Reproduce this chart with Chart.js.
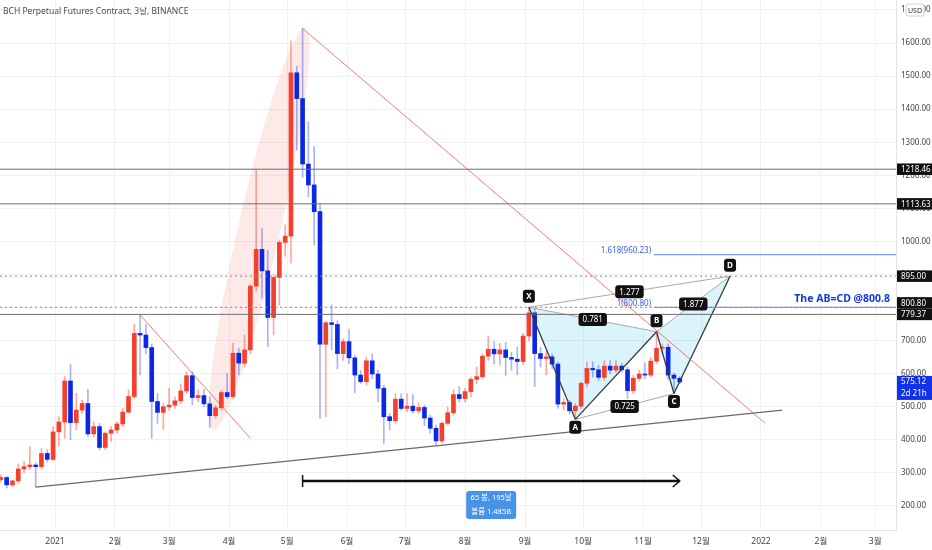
<!DOCTYPE html>
<html>
<head>
<meta charset="utf-8">
<script src="https://cdn.jsdelivr.net/npm/chart.js@4.4.1/dist/chart.umd.min.js"></script>
<style>
  html, body { margin: 0; padding: 0; background: #fff; }
  #wrap { width: 932px; height: 550px; position: relative; }
</style>
</head>
<body>
<div id="wrap"><canvas id="c"></canvas></div>
<script>
// 3-day candles, first one starts 28 days before 2021-01-01
const startDay = -28;
const opens  = [280,286,264,276,312,319,324,319,359,341,424,454,578,452,490,510,418,440,377,420,430,448,484,531,722,717,679,516,483,500,505,518,548,594,528,534,509,473,497,543,531,662,632,672,865,976,911,770,891,997,1016,1510,1432,1234,1171,1090,689,754,749,661,697,648,596,576,639,599,556,470,458,523,495,502,488,498,466,435,397,450,482,537,525,546,583,591,653,674,660,672,649,644,637,714,784,661,646,651,629,508,513,488,502,571,616,612,589,623,611,623,612,549,586,599,596,638,677,680,596,586];
const highs  = [294,290,278,327,334,380,330,374,370,440,470,591,628,541,520,553,455,450,424,440,455,495,551,750,778,750,690,540,510,556,530,569,606,606,551,553,530,505,550,601,692,677,717,870,1218,1040,974,900,1005,1050,1607,1530,1644,1362,1287,1115,758,808,760,705,735,655,610,650,660,610,565,480,540,539,540,537,512,505,475,445,455,500,551,561,555,590,620,660,714,697,692,695,665,680,722,800.8,795,680,668,660,635,525,520,510,575,636,636,625,640,640,640,632,620,595,610,633,650,727,690,690,602,592];
const lows   = [272,254,258,270,300,310,257,312,333,336,380,405,400,430,480,410,408,370,370,395,420,440,480,525,596,660,405,450,432,490,495,510,540,506,515,500,438,465,490,525,525,596,620,660,850,828,682,717,808,955,934,1276,1194,1135,989,465,470,672,615,640,630,543,570,565,585,515,389,430,450,490,485,480,480,443,420,384,390,445,475,515,515,530,570,585,640,630,625,595,610,597,627,700,561,620,596,615,495,490,478,462,495,560,590,580,580,600,605,605,525,540,578,585,590,630,660,583,540,570];
const closes = [286,264,276,312,319,324,319,359,341,424,454,578,452,490,510,418,440,377,420,430,448,484,531,722,717,679,516,483,500,505,518,548,594,528,534,509,473,497,543,531,662,632,672,865,976,911,770,891,997,1016,1510,1432,1234,1171,1090,689,754,749,661,697,648,596,576,639,599,556,470,458,523,495,502,488,498,466,435,397,450,482,537,525,546,583,591,653,674,660,672,649,644,637,714,784,661,646,651,629,508,513,488,502,571,616,612,589,623,611,623,612,549,586,599,596,638,677,680,596,586,575.12];

// x axis: days from 2021-01-01
const monthDays   = [0,31,59,90,120,151,181,212,243,273,304,334,365,396,424];
const monthLabels = ['2021','2월','3월','4월','5월','6월','7월','8월','9월','10월','11월','12월','2022','2월','3월'];
const yTicks = [200,300,400,500,600,700,800,900,1000,1100,1200,1300,1400,1500,1600,1700];

// horizontal levels
const solidLevels  = [1218.46, 1113.63, 779.37];
const dottedLevels = [895.00, 800.80];
const boxLevels    = [1218.46, 1113.63, 895.00, 800.80, 779.37];

// trend lines [day, price]
const supportDays = [-10, 376],  supportPrices = [257, 490];
const redDays1    = [128, 367],  redPrices1    = [1644, 451];
const redDays2    = [44, 101],   redPrices2    = [778, 405];
const arcDays     = [81.7, 129.3], arcPrices   = [430, 1645];

// harmonic pattern
const patNames  = ['X','A','B','C','D'];
const patDays   = [245, 269, 311, 320, 349];
const patPrices = [800.8, 462, 727, 540, 895];
const patAbove  = [true, false, true, false, true];
const ratioPairs = [[0,2],[1,3],[2,4],[0,4]];
const ratioText  = ['0.781','0.725','1.877','1.277'];
const fibPrices  = [960.23, 800.80];
const fibText    = ['1.618(960.23)','1(800.80)'];
const fibStartDay = 309.7;

// measure tool
const measureDays = [128, 323];
const measurePrice = 275.6;
const measureText = ['65 봉, 195날', '볼륨 1.485B'];

const lastPrice = 575.12;
const countdown = '2d 21h';

const xMin = -28.44, xMax = 434.8;
const yMin = 127.4, yMax = 1730.1;

const UP = '#f5402c', DOWN = '#0a28e6';
const UP_W = 'rgba(245,64,44,0.45)', DOWN_W = 'rgba(10,40,230,0.35)';
const FONT = "'Noto Sans', 'Noto Sans CJK KR', sans-serif";

const days = opens.map((o, i) => startDay + 3 * i);
const isUp = i => closes[i] >= opens[i];

const lineBase = { type: 'line', pointRadius: 0, pointHoverRadius: 0, fill: false, tension: 0, order: 0 };
function seg(d0, p0, d1, p1, color, width, dash) {
  return Object.assign({}, lineBase, {
    data: [{ x: d0, y: p0 }, { x: d1, y: p1 }],
    borderColor: color, borderWidth: width, borderDash: dash || []
  });
}

let datasets = [
  {
    type: 'bar', order: 1, grouped: false, barThickness: 1, borderWidth: 0,
    data: days.map((d, i) => ({ x: d, y: [lows[i], highs[i]] })),
    backgroundColor: ctx => isUp(ctx.dataIndex) ? UP_W : DOWN_W
  },
  {
    type: 'bar', order: 1, grouped: false, barThickness: 4, borderWidth: 0, minBarLength: 1,
    data: days.map((d, i) => ({ x: d, y: [opens[i], closes[i]] })),
    backgroundColor: ctx => isUp(ctx.dataIndex) ? UP : DOWN
  }
];

solidLevels.forEach(p => datasets.push(seg(xMin, p, xMax, p, '#6f6f6f', 1)));
dottedLevels.forEach(p => datasets.push(seg(xMin, p, xMax, p, '#8a8a8a', 1, [2, 3])));
fibPrices.forEach(p => datasets.push(seg(fibStartDay, p, xMax, p, '#8296f2', 1.2)));
datasets.push(seg(supportDays[0], supportPrices[0], supportDays[1], supportPrices[1], '#6a6a6a', 1.3));
datasets.push(seg(redDays1[0], redPrices1[0], redDays1[1], redPrices1[1], 'rgba(242,80,70,0.75)', 1));
datasets.push(seg(redDays2[0], redPrices2[0], redDays2[1], redPrices2[1], 'rgba(242,80,70,0.75)', 1));
// pattern legs
for (let k = 0; k < 4; k++) {
  datasets.push(seg(patDays[k], patPrices[k], patDays[k + 1], patPrices[k + 1], '#3a3a3a', 1.3));
}
ratioPairs.forEach(pr => {
  datasets.push(seg(patDays[pr[0]], patPrices[pr[0]], patDays[pr[1]], patPrices[pr[1]], '#a9a9a9', 1));
});
datasets.push(seg(measureDays[0], measurePrice, measureDays[1], measurePrice, '#111', 2.5));

function roundBox(ctx, x, y, w, h, r, color) {
  ctx.fillStyle = color;
  ctx.beginPath();
  ctx.roundRect(x, y, w, h, r);
  ctx.fill();
}

const drawings = {
  id: 'drawings',
  beforeDatasetsDraw(chart) {
    const { ctx, chartArea: a, scales: { x, y } } = chart;
    ctx.save();
    ctx.beginPath(); ctx.rect(a.left, a.top, a.width, a.height); ctx.clip();
    // pink arc
    const x0 = x.getPixelForValue(arcDays[0]), y0 = y.getPixelForValue(arcPrices[0]);
    const x1 = x.getPixelForValue(arcDays[1]), y1 = y.getPixelForValue(arcPrices[1]);
    ctx.fillStyle = 'rgba(245,70,70,0.12)';
    ctx.beginPath();
    ctx.ellipse((x0 + x1) / 2, (y0 + y1) / 2, Math.hypot(x1 - x0, y1 - y0) / 2, 21, Math.atan2(y1 - y0, x1 - x0), 0, Math.PI * 2);
    ctx.fill();
    // harmonic triangles
    const p = patDays.map((d, i) => [x.getPixelForValue(d), y.getPixelForValue(patPrices[i])]);
    ctx.fillStyle = 'rgba(40,185,225,0.17)';
    [[0, 1, 2], [2, 3, 4]].forEach(t => {
      ctx.beginPath();
      ctx.moveTo(p[t[0]][0], p[t[0]][1]);
      ctx.lineTo(p[t[1]][0], p[t[1]][1]);
      ctx.lineTo(p[t[2]][0], p[t[2]][1]);
      ctx.closePath();
      ctx.fill();
    });
    ctx.restore();
  },
  afterDraw(chart) {
    const { ctx, chartArea: a, scales: { x, y } } = chart;
    ctx.save();
    ctx.textBaseline = 'middle';

    // title
    ctx.fillStyle = '#4a4a4a';
    ctx.font = '8.5px ' + FONT;
    ctx.textAlign = 'left';
    ctx.fillText('BCH Perpetual Futures Contract, 3날, BINANCE', 3, 12);

    // measure ends + label
    const mx0 = x.getPixelForValue(measureDays[0]), mx1 = x.getPixelForValue(measureDays[1]);
    const my = y.getPixelForValue(measurePrice);
    ctx.strokeStyle = '#111'; ctx.lineWidth = 1.5;
    ctx.beginPath(); ctx.moveTo(mx0, my - 6); ctx.lineTo(mx0, my + 6); ctx.stroke();
    ctx.beginPath(); ctx.moveTo(mx1 - 7, my - 6); ctx.lineTo(mx1, my); ctx.lineTo(mx1 - 7, my + 6); ctx.stroke();
    const mc = (mx0 + mx1) / 2;
    roundBox(ctx, mc - 25, my + 10, 50, 28, 3, '#4793e8');
    ctx.fillStyle = '#fff'; ctx.textAlign = 'center'; ctx.font = '7.5px ' + FONT;
    ctx.fillText(measureText[0], mc, my + 17);
    ctx.fillText(measureText[1], mc, my + 31);

    // pattern point labels
    ctx.font = 'bold 8px ' + FONT;
    patNames.forEach((n, i) => {
      const px = x.getPixelForValue(patDays[i]), py = y.getPixelForValue(patPrices[i]);
      const cy = patAbove[i] ? py - 11 : py + 8;
      roundBox(ctx, px - 6, cy - 6.5, 12, 13, 3, '#111');
      ctx.fillStyle = '#fff';
      ctx.fillText(n, px, cy + 0.5);
    });
    // ratio labels
    ctx.font = '8px ' + FONT;
    ratioPairs.forEach((pr, k) => {
      const px = (x.getPixelForValue(patDays[pr[0]]) + x.getPixelForValue(patDays[pr[1]])) / 2;
      const py = (y.getPixelForValue(patPrices[pr[0]]) + y.getPixelForValue(patPrices[pr[1]])) / 2;
      const w = ctx.measureText(ratioText[k]).width + 8;
      roundBox(ctx, px - w / 2, py - 6.5, w, 13, 3, '#111');
      ctx.fillStyle = '#fff';
      ctx.fillText(ratioText[k], px, py + 0.5);
    });
    // fib texts
    ctx.fillStyle = '#3c5ef0'; ctx.textAlign = 'right'; ctx.font = '8px ' + FONT;
    const fx = x.getPixelForValue(fibStartDay) - 3;
    fibPrices.forEach((p, k) => ctx.fillText(fibText[k], fx, y.getPixelForValue(p) - 4));

    // note
    ctx.fillStyle = '#1438e0'; ctx.font = 'bold 10.5px ' + FONT;
    ctx.fillText('The AB=CD @800.8', a.right - 6, y.getPixelForValue(800.8) - 8);

    // axis price boxes, stacked so they don't overlap (lowest price keeps its place)
    ctx.textAlign = 'left'; ctx.font = '8px ' + FONT;
    const boxH = 11.5;
    const pys = boxLevels.map(p => y.getPixelForValue(p));
    for (let k = pys.length - 2; k >= 0; k--) {
      if (pys[k + 1] - pys[k] < boxH) pys[k] = pys[k + 1] - boxH;
    }
    boxLevels.forEach((p, k) => {
      const py = pys[k];
      ctx.fillStyle = '#111';
      ctx.fillRect(a.right + 1, py - boxH / 2, chart.width - a.right - 1, boxH);
      ctx.fillStyle = '#fff';
      ctx.fillText(p.toFixed(2), a.right + 5, py + 0.5);
    });
    const lp = y.getPixelForValue(lastPrice);
    ctx.fillStyle = '#1232ea';
    ctx.fillRect(a.right + 1, lp - 6, chart.width - a.right - 1, 24);
    ctx.fillStyle = '#fff';
    ctx.fillText(lastPrice.toFixed(2), a.right + 5, lp);
    ctx.fillText(countdown, a.right + 5, lp + 12);

    // USD badge over top tick
    ctx.fillStyle = '#fff'; ctx.strokeStyle = '#d1d4dc'; ctx.lineWidth = 1;
    ctx.beginPath(); ctx.roundRect(a.right + 10, 4, 18, 12, 2); ctx.fill(); ctx.stroke();
    ctx.fillStyle = '#333'; ctx.font = '7px ' + FONT; ctx.textAlign = 'center';
    ctx.fillText('USD', a.right + 19, 10.5);
    ctx.restore();
  }
};

new Chart(document.getElementById('c'), {
  data: { datasets },
  options: {
    responsive: true,
    maintainAspectRatio: false,
    animation: false,
    layout: { padding: 0 },
    plugins: { legend: { display: false }, tooltip: { enabled: false } },
    scales: {
      x: {
        type: 'linear', min: xMin, max: xMax, offset: false,
        grid: { color: '#f1f1f3', drawTicks: false, offset: false },
        border: { color: '#e0e3eb' },
        afterBuildTicks: s => { s.ticks = monthDays.map(v => ({ value: v })); },
        afterFit: s => { s.height = 20; s.paddingLeft = 0; s.paddingRight = 0; },
        ticks: {
          autoSkip: false, maxRotation: 0, padding: 6, color: '#444',
          font: { size: 8.5, family: FONT },
          callback: (v, i) => monthLabels[i]
        }
      },
      y: {
        type: 'linear', position: 'right', min: yMin, max: yMax,
        grid: { color: '#f1f1f3', drawTicks: false },
        border: { color: '#e0e3eb' },
        afterBuildTicks: s => { s.ticks = yTicks.map(v => ({ value: v })); },
        afterFit: s => { s.width = 36; s.paddingTop = 0; s.paddingBottom = 0; },
        ticks: {
          padding: 5, color: '#444',
          font: { size: 8, family: FONT },
          callback: v => v.toFixed(2)
        }
      }
    }
  },
  plugins: [drawings]
});
</script>
</body>
</html>
